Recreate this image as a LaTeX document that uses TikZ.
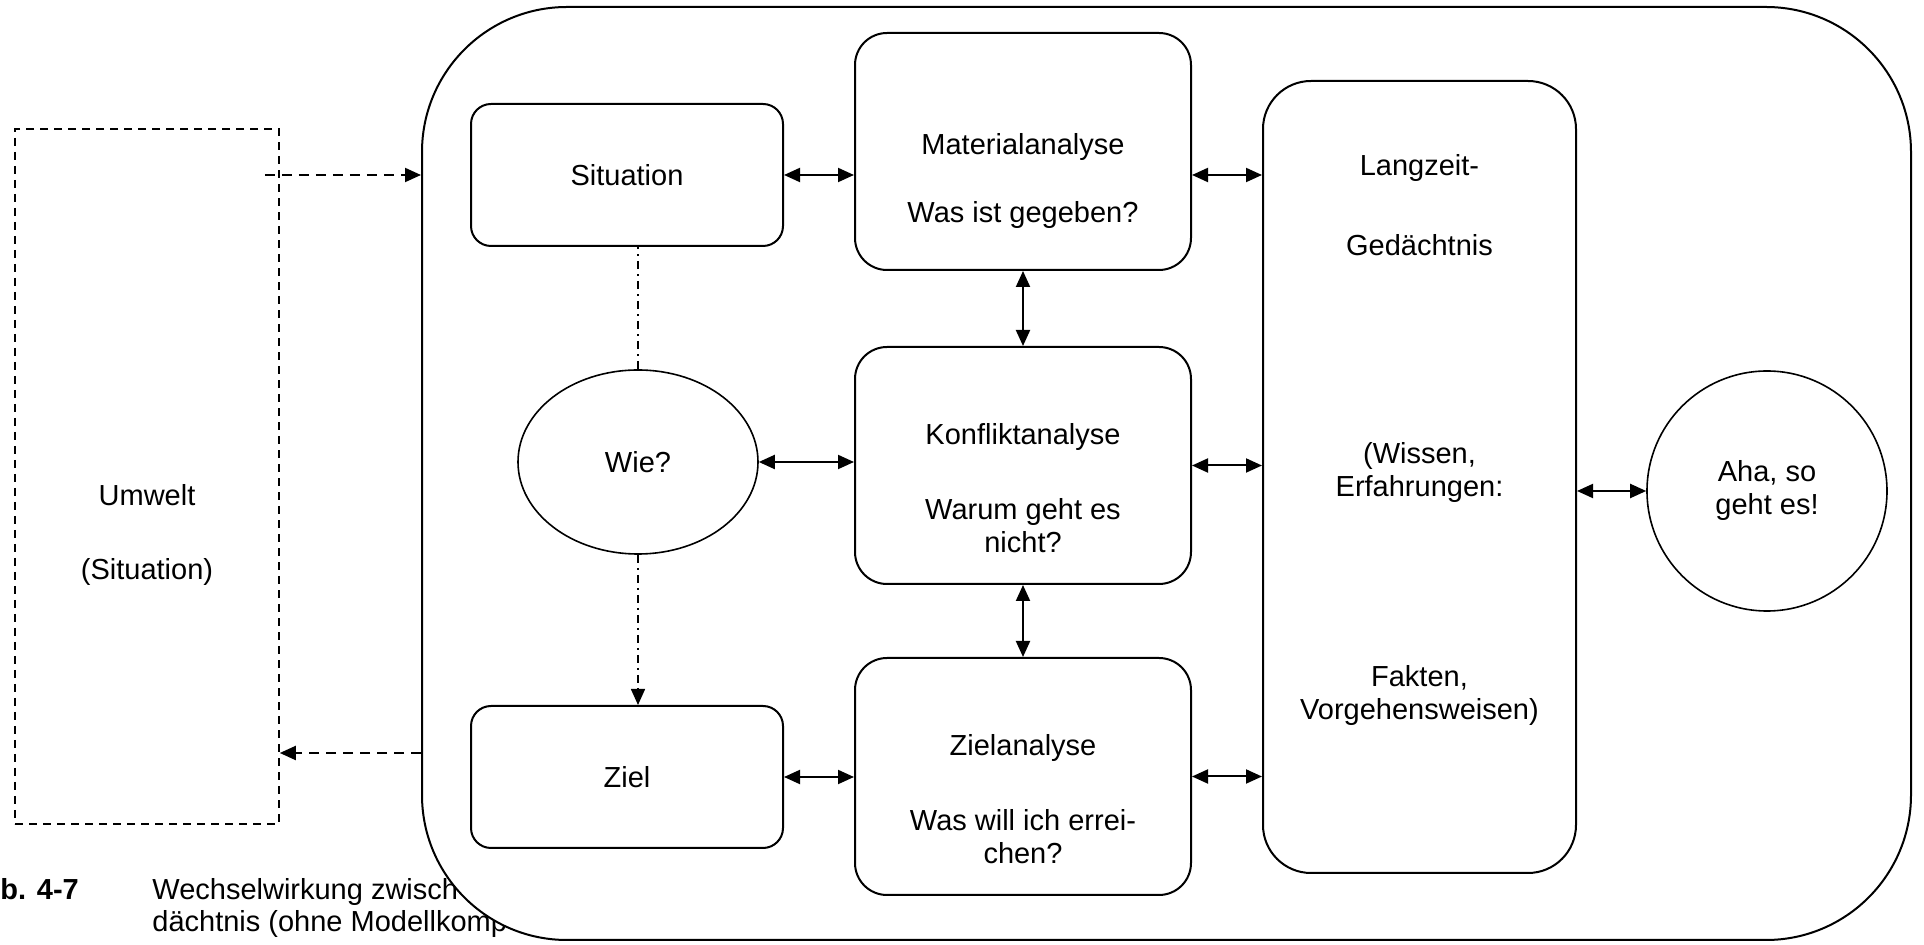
\documentclass[tikz,border=0pt]{standalone}
\usepackage{fontspec}
\setmainfont{Liberation Sans}
\usetikzlibrary{arrows.meta,positioning,shapes.geometric}

\begin{document}
\begin{tikzpicture}[
    x=0.5pt, y=-0.5pt,
    font=\fontsize{14.5}{16.5}\selectfont,
    node distance=37pt,
    block/.style={draw, rounded corners=16pt, line width=1pt, align=center, fill=white, minimum width=168pt, minimum height=118.5pt, inner sep=0pt},
    smallblock/.style={block, rounded corners=10pt, minimum width=156pt, minimum height=71pt},
    link/.style={{Triangle[length=8pt,width=7pt]}-{Triangle[length=8pt,width=7pt]}, line width=1pt},
    flow/.style={-{Triangle[length=8pt,width=7pt]}, line width=1pt, dash pattern=on 5pt off 3.5pt},
    hint/.style={line width=0.8pt, dash pattern=on 4pt off 2.5pt on 1pt off 2.5pt},
    caption/.style={inner sep=0pt, align=left, anchor=west, font=\fontsize{14.5}{16}\selectfont}
]
\useasboundingbox (0,0) rectangle (1924,945);

\node[caption] (capnum) at (0,889) {\bfseries b. 4-7};
\node[caption] (captext) at (152,908) {Wechselwirkung zwisch\\dächtnis (ohne Modellkomp};

\node[draw, line width=1pt, fill=white, rounded corners=72.5pt, minimum width=744.5pt, minimum height=466.5pt] (frame) at (1166.5,473.5) {};
\node[draw, line width=0.8pt, dash pattern=on 4pt off 3pt, align=center, minimum width=132pt, minimum height=347.5pt] (umwelt) at (147,476.5) {\mbox{}\\[52.6pt]Umwelt\\[20.5pt](Situation)};

\node[smallblock] (situation) at (627,175) {Situation};
\node[block] (material) at (1023,151.5) {\mbox{}\\[23.6pt]Materialanalyse\\[17.5pt]Was ist gegeben?};
\node[block, below=37.5pt of material] (konflikt) {\mbox{}\\[16.6pt]Konfliktanalyse\\[21pt]Warum geht es\\nicht?};
\node[block, below=36pt of konflikt] (zielanalyse) {\mbox{}\\[16.6pt]Zielanalyse\\[21pt]Was will ich errei-\\chen?};
\node[smallblock] (ziel) at (627,777) {Ziel};
\node[block, rounded corners=24pt, minimum width=156.5pt, minimum height=396pt] (gedaechtnis) at (1419.5,477) {Langzeit-\\[23.5pt]Gedächtnis\\[87.5pt](Wissen,\\Erfahrungen:\\[78.5pt]Fakten,\\Vorgehensweisen)\\[23.5pt]\mbox{}};
\node[draw, ellipse, line width=0.8pt, minimum width=120pt, minimum height=92pt, inner sep=0pt] (wie) at (638,462) {Wie?};
\node[draw, circle, line width=0.8pt, minimum size=120pt, inner sep=0pt, align=center] (aha) at (1767,491) {Aha, so\\geht es!};

\draw[link] (situation.east) -- (situation.east -| material.west);
\draw[link] (material.east |- situation.east) -- (gedaechtnis.west |- situation.east);
\draw[link] (material) -- (konflikt);
\draw[link] (wie.east) -- (wie.east -| konflikt.west);
\draw[link] (konflikt.east) -- (konflikt.east -| gedaechtnis.west);
\draw[link] (konflikt) -- (zielanalyse);
\draw[link] (ziel.east) -- (ziel.east -| zielanalyse.west);
\draw[link] (zielanalyse.east) -- (zielanalyse.east -| gedaechtnis.west);
\draw[link] (aha.west) -- (aha.west -| gedaechtnis.east);
\draw[hint] (wie.north) -- (wie.north |- situation.south);
\draw[hint, -{Triangle[length=8pt,width=7pt]}] (wie.south) -- (wie.south |- ziel.north);
\draw[flow] ([xshift=-7.5pt]umwelt.east |- situation.west) -- (frame.west |- situation.west);
\draw[flow] ([yshift=-139.75pt]frame.west) -- ([yshift=-139.75pt]frame.west -| umwelt.east);
\end{tikzpicture}
\end{document}
